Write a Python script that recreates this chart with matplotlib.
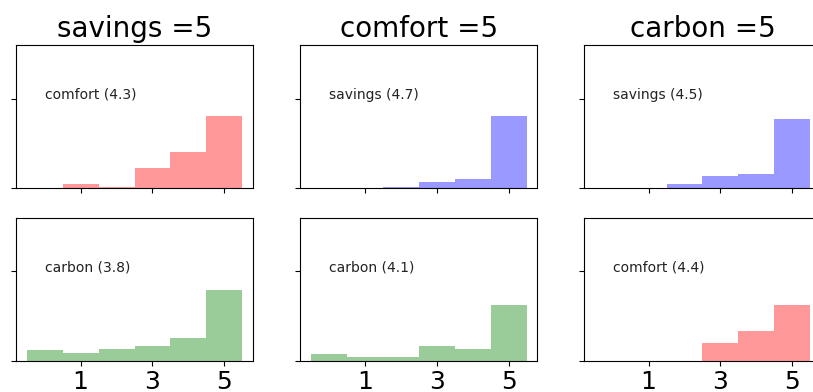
import numpy as np
import matplotlib
matplotlib.use('Agg')
import matplotlib.pyplot as plt

# score bins (0..5) and the bar heights of each histogram
scores = [0, 1, 2, 3, 4, 5]

col_titles = ['savings =5', 'comfort =5', 'carbon =5']

# top row
top_names = ['comfort', 'savings', 'savings']
top_means = [4.3, 4.7, 4.5]
top_colors = ['red', 'blue', 'blue']
top_heights = [
    [0.0, 0.024, 0.009, 0.116, 0.204, 0.406],
    [0.0, 0.0, 0.009, 0.034, 0.051, 0.406],
    [0.0, 0.0, 0.024, 0.067, 0.082, 0.390],
]

# bottom row
bottom_names = ['carbon', 'carbon', 'comfort']
bottom_means = [3.8, 4.1, 4.4]
bottom_colors = ['green', 'green', 'red']
bottom_heights = [
    [0.060, 0.041, 0.067, 0.084, 0.125, 0.398],
    [0.035, 0.019, 0.019, 0.084, 0.067, 0.309],
    [0.0, 0.0, 0.0, 0.099, 0.165, 0.310],
]

xticks = [1, 3, 5]

fig = plt.figure(figsize=(8.13, 3.92), dpi=100)

lefts = [0.0197, 0.3696, 0.7183]
width = 0.2915
row_bottoms = [0.5196, 0.0798]
height = 0.365

rows = [
    (top_names, top_means, top_colors, top_heights),
    (bottom_names, bottom_means, bottom_colors, bottom_heights),
]

for r, (names, means, colors, heights) in enumerate(rows):
    for c in range(3):
        ax = fig.add_axes([lefts[c], row_bottoms[r], width, height])
        ax.bar(scores, heights[c], width=1.0, color=colors[c], alpha=0.4)
        ax.set_ylim(0, 0.8)
        ax.set_yticks([0, 0.5])
        ax.set_yticklabels([])
        ax.set_xticks(xticks)
        ax.text(0, 0.5, '%s (%.1f)' % (names[c], means[c]), fontsize=10,
                color='#222222')
        if r == 0:
            ax.set_title(col_titles[c], fontsize=20)
            ax.set_xticklabels([])
        else:
            ax.tick_params(axis='x', labelsize=18)

fig.savefig('out.png', dpi=100)
